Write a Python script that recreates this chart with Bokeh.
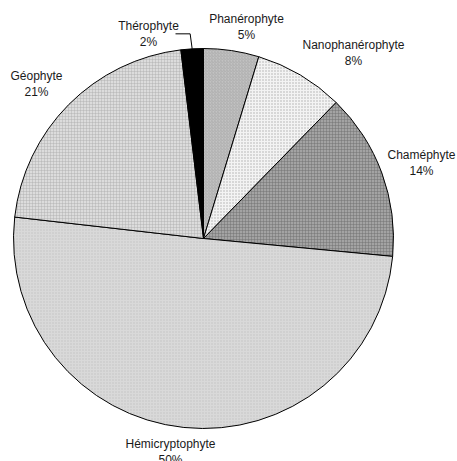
import math
from bokeh.plotting import figure
from bokeh.models import Range1d, ColumnDataSource
from bokeh.core.properties import value
from bokeh.embed import file_html
from bokeh.resources import INLINE

# ---- data ----
categories = ["Phanérophyte", "Nanophanérophyte", "Chaméphyte",
              "Hémicryptophyte", "Géophyte", "Thérophyte"]
shares = [4.7, 7.6, 14.2, 50.3, 21.3, 1.9]
pct_labels = ["5%", "8%", "14%", "50%", "21%", "2%"]

# ---- styles / layout ----
fills = ["#c2c2c2", "#f3f3f3", "#a3a3a3", "#d9d9d9", "#dcdcdc", "#000000"]
hatches = ["right_diagonal_line", "dot", "cross", "dot", "cross", " "]
hatch_colors = ["#9a9a9a", "#9c9c9c", "#707070", "#bdbdbd", "#b0b0b0", "#000000"]
W, H = 457, 461
cx, cy, R = 203, H - 238, 190      # centre and radius in pixel-like data units
# label block centres (page px)
label_xy = [(246, 26), (353, 52), (421, 162), (170, 451), (36, 83), (148, 33)]

total = sum(shares)
starts, ends = [], []
cum = 0.0
for v in shares:
    a0 = math.pi / 2 - 2 * math.pi * cum / total
    cum += v
    a1 = math.pi / 2 - 2 * math.pi * cum / total
    starts.append(a0)
    ends.append(a1)

src = ColumnDataSource(dict(cat=categories, start=starts, end=ends,
                            fill=fills, hatch=hatches, hcol=hatch_colors))

p = figure(width=W, height=H, output_backend="svg", toolbar_location=None,
           x_range=Range1d(0, W), y_range=Range1d(0, H),
           min_border=0, outline_line_color=None)
p.axis.visible = False
p.grid.visible = False
p.background_fill_color = "white"
p.border_fill_color = "white"

p.wedge(x=cx, y=cy, radius=R, start_angle="start", end_angle="end",
        direction="clock", source=src, fill_color="fill",
        hatch_pattern="hatch", hatch_color="hcol", hatch_scale=3,
        hatch_weight=0.6, hatch_alpha=0.8,
        line_color="black", line_width=1)

# labels
lx = [xy[0] for xy in label_xy]
ly = [H - xy[1] for xy in label_xy]
font = value("Liberation Sans")
p.text(x=lx, y=[y + 8 for y in ly], text=categories, text_font=font,
       text_font_size="12px", text_align="center", text_baseline="middle",
       text_color="#1a1a1a")
p.text(x=lx, y=[y - 8 for y in ly], text=pct_labels, text_font=font,
       text_font_size="12px", text_align="center", text_baseline="middle",
       text_color="#1a1a1a")

# leader line for the small slice (Thérophyte)
mid = (starts[-1] + ends[-1]) / 2
ex, ey = cx + R * math.cos(mid), cy + R * math.sin(mid)
p.line(x=[lx[-1] + 27, ex - 2, ex], y=[ey + 15, ey + 15, ey],
       line_color="black", line_width=1)

open("out.html", "w").write(file_html(p, INLINE))
